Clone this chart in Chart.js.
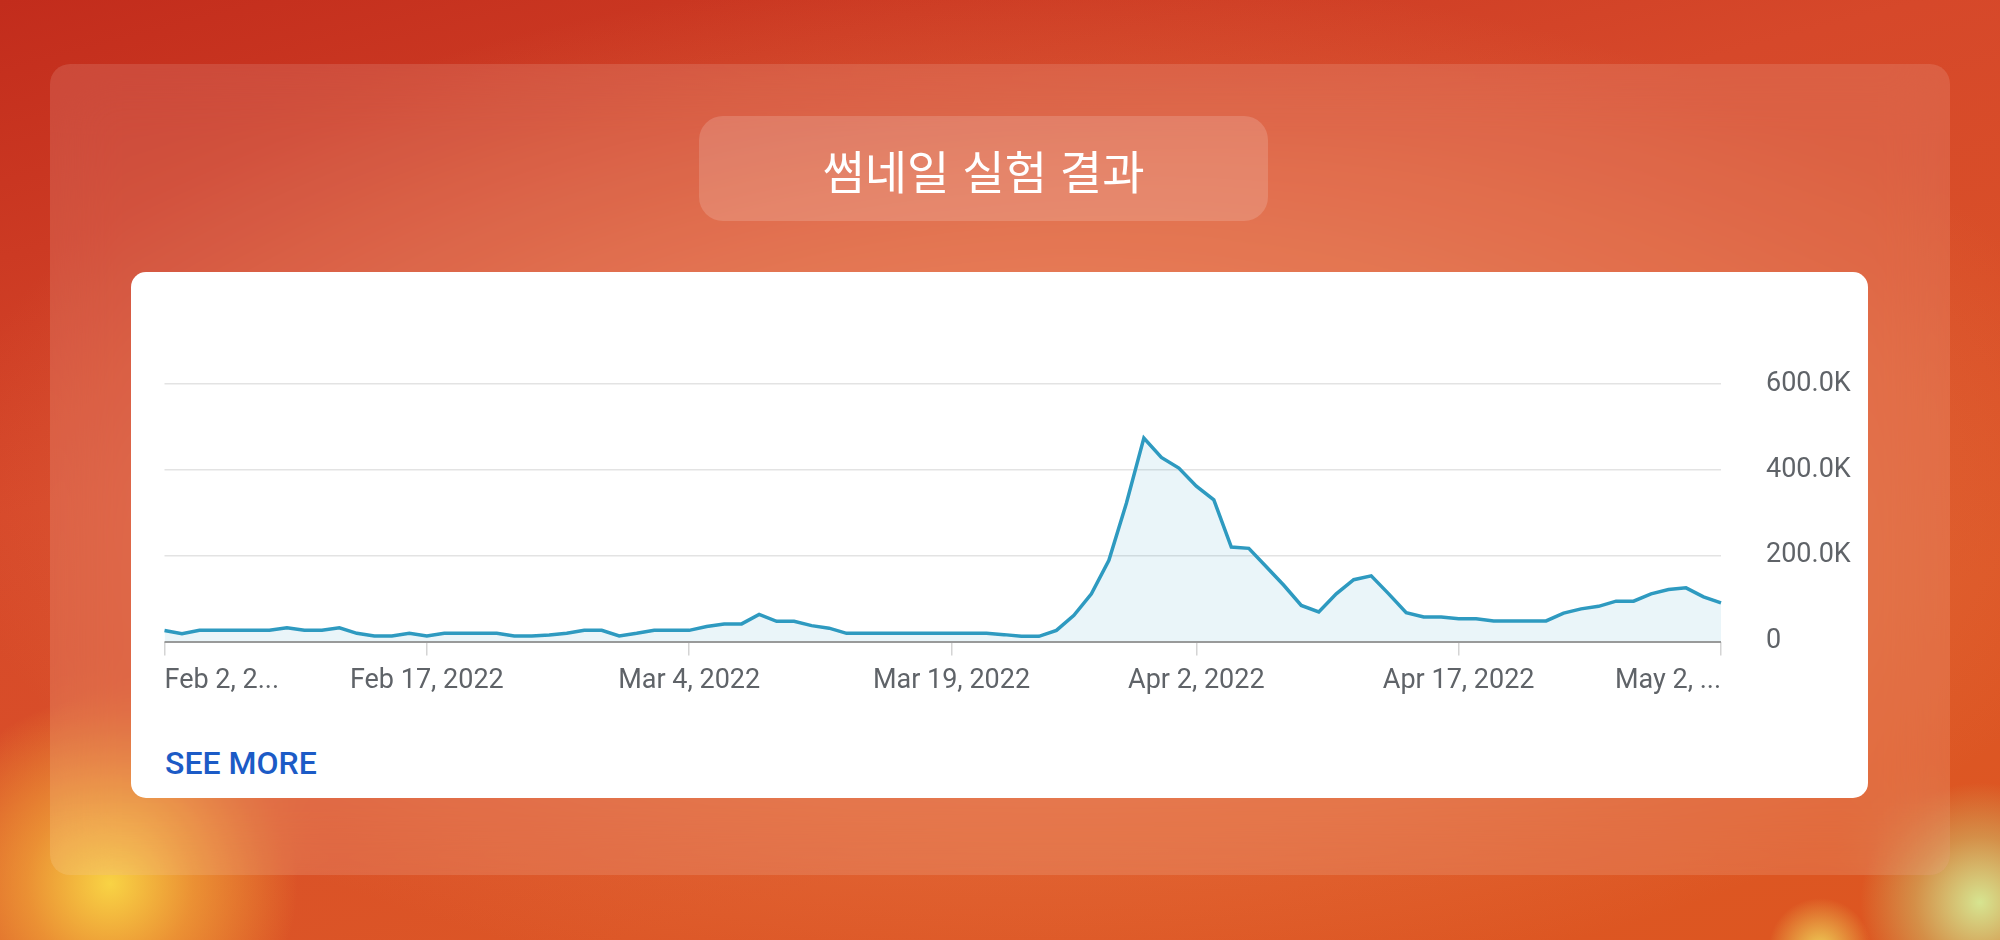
<!DOCTYPE html>
<html lang="ko">
<head>
<meta charset="utf-8">
<title>썸네일 실험 결과</title>
<script src="https://cdn.jsdelivr.net/npm/chart.js@4.4.1/dist/chart.umd.min.js"></script>
<style>
  html, body { margin: 0; padding: 0; width: 2000px; height: 940px; overflow: hidden; }
  body {
    position: relative;
    font-family: Roboto, "Noto Sans", sans-serif;
    background:
      radial-gradient(circle at 5.5% 94%, rgba(250, 218, 70, 0.95) 0, rgba(246, 186, 60, 0.6) 4%, rgba(240, 150, 50, 0) 9%),
      radial-gradient(circle at 99% 96%, rgba(214, 236, 150, 0.95) 0, rgba(200, 228, 130, 0.4) 3%, rgba(200, 228, 130, 0) 5.5%),
      radial-gradient(circle at 91% 101%, rgba(240, 226, 96, 0.85) 0, rgba(240, 226, 96, 0) 2.5%),
      radial-gradient(ellipse 55% 55% at 52% 52%, rgba(236, 128, 78, 0.95) 0%, rgba(236, 128, 78, 0) 100%),
      linear-gradient(165deg, #c22c1c 0%, #d6482a 35%, #dc5626 75%, #dd5620 100%);
  }
  .panel {
    position: absolute; left: 50px; top: 64px; width: 1900px; height: 811px;
    border-radius: 20px;
    background: rgba(255, 255, 255, 0.12);
    backdrop-filter: blur(30px);
  }
  .title {
    position: absolute; left: 699px; top: 116px; width: 569px; height: 105px;
    border-radius: 24px;
    background: rgba(255, 255, 255, 0.16);
    color: #fff;
    font: 400 46px "Noto Sans CJK KR", sans-serif;
    display: flex; align-items: center; justify-content: center;
  }
  .card {
    position: absolute; left: 131px; top: 272px; width: 1737px; height: 526px;
    background: #fff; border-radius: 15px;
  }
  .card canvas { position: absolute; left: 0; top: 0; }
  .see-more {
    position: absolute; left: 34px; top: 475px;
    font: 500 32px/32px Roboto, sans-serif;
    color: #1c5bc6;
  }
</style>
</head>
<body>
<div class="panel"></div>
<div class="title">썸네일 실험 결과</div>
<div class="card">
  <canvas id="trendChart" width="1737" height="450"></canvas>
  <div class="see-more">SEE MORE</div>
</div>

<script>
// daily dates, Feb 2 2022 .. May 2 2022
const months = ['Jan', 'Feb', 'Mar', 'Apr', 'May'];
const dates = [];
for (let d = new Date(2022, 1, 2); d <= new Date(2022, 4, 2); d.setDate(d.getDate() + 1)) {
  dates.push(months[d.getMonth()] + ' ' + d.getDate() + ', 2022');
}

// views per day
const views = [
  25700, 18000, 26000, 26000, 26000, 26000, 26000, 32000, 26000, 26000,
  32000, 19000, 13000, 13000, 19000, 13000, 19000, 19000, 19000, 19000,
  13000, 13000, 15000, 19000, 26000, 26000, 13000, 19000, 26000, 26000,
  26000, 35000, 41000, 41000, 63000, 47000, 47000, 37000, 31000, 19000,
  19000, 19000, 19000, 19000, 19000, 19000, 19000, 19000, 16000, 12000,
  12000, 26000, 61000, 111000, 189000, 322000, 474000, 429000, 404000, 362000,
  330000, 220000, 217000, 174000, 131000, 84000, 69000, 111000, 144000, 153000,
  111000, 67000, 57000, 57000, 53000, 53000, 48000, 48000, 48000, 48000,
  66000, 76000, 82000, 94000, 94000, 111000, 121000, 125000, 104000, 90000
];

// x axis labels shown under the chart
const tickDates = ['Feb 2, 2022', 'Feb 17, 2022', 'Mar 4, 2022', 'Mar 19, 2022', 'Apr 2, 2022', 'Apr 17, 2022', 'May 2, 2022'];
const tickLabels = ['Feb 2, 2...', 'Feb 17, 2022', 'Mar 4, 2022', 'Mar 19, 2022', 'Apr 2, 2022', 'Apr 17, 2022', 'May 2, ...'];
const tickIndex = tickDates.map(t => dates.indexOf(t));

const yMax = 600000;
const yStep = 200000;

const labelColor = '#5f6368';

// draws the date labels under the ticks (first one left aligned, last one right aligned)
const dateLabels = {
  id: 'dateLabels',
  afterDraw(chart) {
    const ctx = chart.ctx;
    const xs = chart.scales.x;
    const y = chart.chartArea.bottom + 46;
    ctx.save();
    ctx.font = '27px Roboto';
    ctx.fillStyle = labelColor;
    ctx.textBaseline = 'alphabetic';
    tickIndex.forEach((idx, n) => {
      if (n === 0) ctx.textAlign = 'left';
      else if (n === tickIndex.length - 1) ctx.textAlign = 'right';
      else ctx.textAlign = 'center';
      ctx.fillText(tickLabels[n], xs.getPixelForValue(idx), y);
    });
    ctx.restore();
  }
};

const ctx = document.getElementById('trendChart').getContext('2d');
new Chart(ctx, {
  type: 'line',
  data: {
    labels: dates,
    datasets: [{
      label: 'Views',
      data: views,
      borderColor: '#2e9ac0',
      backgroundColor: 'rgba(46, 154, 192, 0.1)',
      borderWidth: 3.5,
      fill: 'origin',
      pointRadius: 0,
      tension: 0
    }]
  },
  options: {
    responsive: false,
    animation: false,
    devicePixelRatio: 1,
    layout: { padding: { left: 33.5, top: 112, right: 0, bottom: 0 } },
    scales: {
      x: {
        ticks: { display: false, autoSkip: false },
        grid: {
          drawOnChartArea: false,
          drawTicks: true,
          tickLength: 14,
          lineWidth: 1.5,
          color: c => tickIndex.includes(c.index) ? '#d4d4d4' : 'rgba(0,0,0,0)'
        },
        border: { display: false },
        afterFit: s => { s.height = 80.5; }
      },
      y: {
        position: 'right',
        min: 0,
        max: yMax,
        ticks: {
          stepSize: yStep,
          padding: 45,
          color: labelColor,
          font: { family: 'Roboto', size: 27 },
          callback: v => v === 0 ? '0' : (v / 1000).toFixed(1) + 'K'
        },
        grid: {
          drawTicks: false,
          color: c => c.tick && c.tick.value === 0 ? '#9a9a9a' : '#e3e3e3',
          lineWidth: c => c.tick && c.tick.value === 0 ? 2 : 1.5
        },
        border: { display: false },
        afterFit: s => { s.width = 147; }
      }
    },
    plugins: {
      legend: { display: false },
      tooltip: { enabled: false }
    }
  },
  plugins: [dateLabels]
});
</script>
</body>
</html>
